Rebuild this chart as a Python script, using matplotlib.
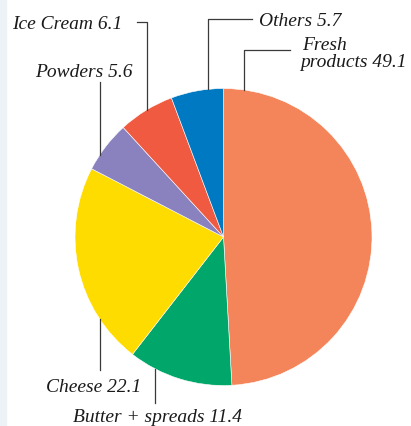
import numpy as np
import matplotlib
matplotlib.use("Agg")
import matplotlib.pyplot as plt

# Share of milk use by product, percent
categories = ["Fresh\nproducts", "Butter + spreads", "Cheese", "Powders", "Ice Cream", "Others"]
shares = [49.1, 11.4, 22.1, 5.6, 6.1, 5.7]
colors = ["#F4855A", "#00A66A", "#FFDC00", "#8A82BF", "#EF5A40", "#0079C3"]

W, H = 411, 426
cx, cy, r = 223.5, H - 237, 148.5

fig = plt.figure(figsize=(W / 100, H / 100), dpi=100)
ax = fig.add_axes([0, 0, 1, 1])
ax.pie(shares, colors=colors, startangle=90, counterclock=False,
       center=(cx, cy), radius=r,
       wedgeprops=dict(edgecolor="white", linewidth=0.4))
ax.set_xlim(0, W)
ax.set_ylim(0, H)
ax.set_aspect("equal")
ax.axis("off")

# pale strip on the left margin
ax.axvspan(0, 6, color="#EDF2F6", zorder=0)


def edge_y(x, top=True):
    d = np.sqrt(r ** 2 - (x - cx) ** 2)
    return cy + d if top else cy - d


line_kw = dict(color="#3a3a3a", lw=0.9)
font = dict(family="Liberation Serif", style="italic", fontsize=14,
            color="#1a1a1a", va="baseline", ha="left")


def label(i):
    return f"{categories[i]} {shares[i]}"


# Fresh products (two lines)
x0 = 244
ax.plot([x0, x0, 290], [edge_y(x0), H - 50, H - 50], **line_kw)
first, second = label(0).split("\n")
ax.text(302, H - 50, first, **font)
ax.text(300, H - 67, second, **font)

# Others
x0 = 208
ax.plot([x0, x0, 252], [edge_y(x0), H - 19, H - 19], **line_kw)
ax.text(259, H - 26, label(5), **font)

# Ice Cream
x0 = 147
ax.plot([x0, x0, 137], [edge_y(x0), H - 22, H - 22], **line_kw)
ax.text(12, H - 29, label(4), **font)

# Powders
x0 = 100
ax.plot([x0, x0], [edge_y(x0), H - 82], **line_kw)
ax.text(35, H - 77, label(3), **font)

# Cheese
x0 = 100
ax.plot([x0, x0], [edge_y(x0, top=False), H - 370], **line_kw)
ax.text(46, H - 392, label(2), **font)

# Butter + spreads
x0 = 155
ax.plot([x0, x0], [edge_y(x0, top=False), H - 403], **line_kw)
ax.text(73, H - 422, label(1), **font)

fig.savefig("out.png", dpi=100)
plt.close(fig)
